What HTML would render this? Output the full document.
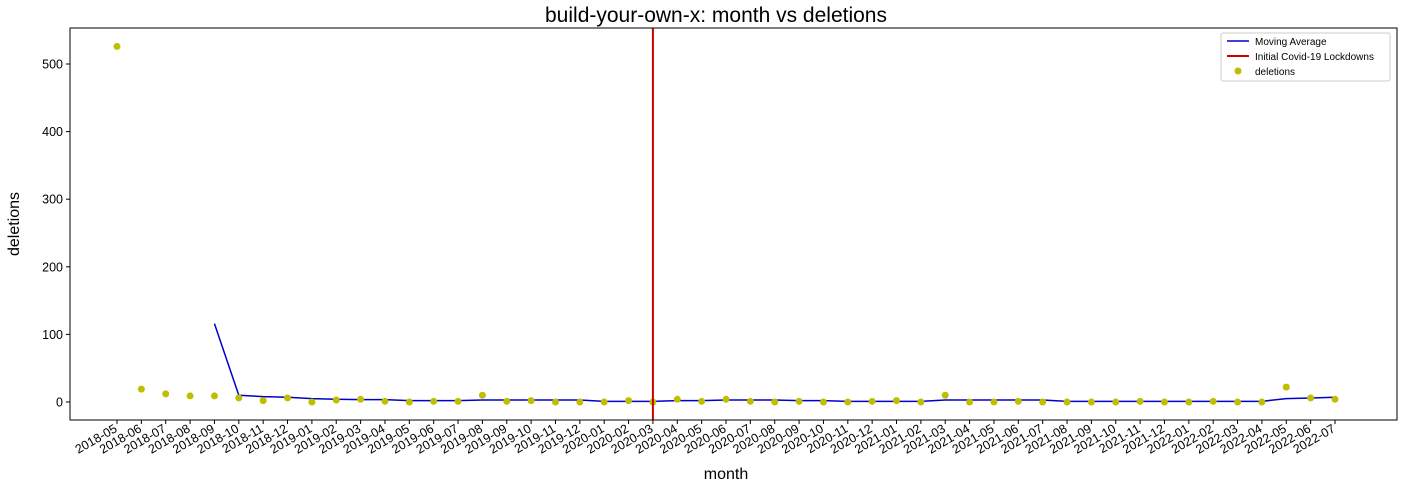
<!DOCTYPE html>
<html><head><meta charset="utf-8"><style>
body{margin:0;background:#fff;font-family:"Liberation Sans","DejaVu Sans",sans-serif;}
svg text{font-family:"Liberation Sans","DejaVu Sans",sans-serif;}
</style></head><body>
<svg id="chart" width="1402" height="489" xmlns="http://www.w3.org/2000/svg">
<rect width="1402" height="489" fill="#fff"/>
<text x="716" y="22" font-size="21" text-anchor="middle">build-your-own-x: month vs deletions</text>
<text x="726" y="479" font-size="16" text-anchor="middle">month</text>
<text x="19" y="224" font-size="16" text-anchor="middle" transform="rotate(-90 19 224)">deletions</text>
<g id="plot"></g>
<rect x="70" y="28" width="1327" height="392" fill="none" stroke="#000" stroke-width="1"/>
<g>
<rect x="1221" y="33" width="169" height="48" fill="#fff" stroke="#ccc" rx="2"/>
<line x1="1227" y1="41" x2="1249" y2="41" stroke="#0000cc" stroke-width="1.5"/>
<text x="1255" y="45" font-size="10">Moving Average</text>
<line x1="1227" y1="56" x2="1249" y2="56" stroke="#cc0000" stroke-width="2"/>
<text x="1255" y="60" font-size="10">Initial Covid-19 Lockdowns</text>
<circle cx="1238" cy="71" r="3.5" fill="#bfbf00"/>
<text x="1255" y="75" font-size="10">deletions</text>
</g>
</svg>
<script>
const months=["2018-05","2018-06","2018-07","2018-08","2018-09","2018-10","2018-11","2018-12","2019-01","2019-02","2019-03","2019-04","2019-05","2019-06","2019-07","2019-08","2019-09","2019-10","2019-11","2019-12","2020-01","2020-02","2020-03","2020-04","2020-05","2020-06","2020-07","2020-08","2020-09","2020-10","2020-11","2020-12","2021-01","2021-02","2021-03","2021-04","2021-05","2021-06","2021-07","2021-08","2021-09","2021-10","2021-11","2021-12","2022-01","2022-02","2022-03","2022-04","2022-05","2022-06","2022-07"];
const deletions=[526,19,12,9,9,6,2,6,0,3,4,1,0,1,1,10,1,2,0,0,0,2,0,4,1,4,1,0,1,0,0,1,2,0,10,0,0,1,0,0,0,0,1,0,0,1,0,0,22,6,4];
const movingAvg=[null,null,null,null,116,10,8,7,5,4,3.5,3.5,2,2,2,3,3,3,3,3,1,1,1,2,2,3,3,3,2,2,1,1,1,1,3,3,3,3,3,1,1,1,1,1,1,1,1,1,5,6,7];
const yTicks=[0,100,200,300,400,500];
const covidMonth="2020-03";
const NS="http://www.w3.org/2000/svg";
const g=document.getElementById('plot');
const x=i=>117+i*(1335-117)/(months.length-1);
const y=v=>402-v*0.676;
function mk(t,a){const e=document.createElementNS(NS,t);for(const k in a)e.setAttribute(k,a[k]);g.appendChild(e);return e;}
yTicks.forEach(v=>{
 const l=mk('line',{x1:66,x2:70,y1:y(v),y2:y(v),stroke:'#000'});
 
 
 const t=mk('text',{x:63,y:y(v)+4.5,'font-size':12.5,'text-anchor':'end'});t.textContent=v;
 
 
});
months.forEach((m,i)=>{
 const l=mk('line',{x1:x(i),x2:x(i),y1:420,y2:424,stroke:'#000'});
 
 
 const t=mk('text',{x:x(i)+1,y:431,'font-size':12.5,'text-anchor':'end',transform:`rotate(-30 ${x(i)+1} 431)`});t.textContent=m;
 
 
});
let pts=[];movingAvg.forEach((v,i)=>{if(v!==null)pts.push(x(i)+','+y(v));});
const ma=mk('polyline',{points:pts.join(' '),fill:'none',stroke:'#0000cc','stroke-width':1.5});


deletions.forEach((v,i)=>{
 const c=mk('circle',{cx:x(i),cy:y(v),r:3.5,fill:'#bfbf00'});
 
 
});
const ci=months.indexOf(covidMonth);
const cl=mk('line',{x1:x(ci),x2:x(ci),y1:28,y2:420,stroke:'#cc0000','stroke-width':2});


</script>
</body></html>
